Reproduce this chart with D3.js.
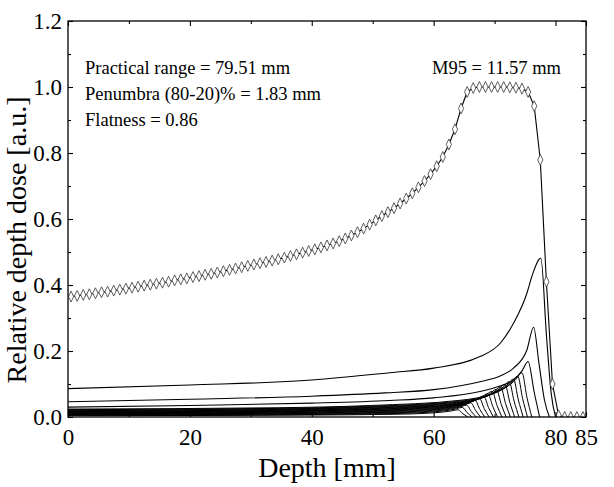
<!DOCTYPE html>
<html><head><meta charset="utf-8">
<script src="https://cdn.jsdelivr.net/npm/d3@7"></script>
<style>body{margin:0;background:#fff}svg{display:block}</style>
</head><body><svg id="chart" width="614" height="487"></svg>
<script>
// ---- data ----
const sobpDepth = [0.5,1.5,2.5,3.5,4.5,5.5,6.5,7.5,8.5,9.5,10.5,11.5,12.5,13.5,14.5,15.5,16.5,17.5,18.5,19.5,
  20.5,21.5,22.5,23.5,24.5,25.5,26.5,27.5,28.5,29.5,30.5,31.5,32.5,33.5,34.5,35.5,36.5,37.5,38.5,39.5,
  40.5,41.5,42.5,43.5,44.5,45.5,46.5,47.5,48.5,49.5,50.5,51.5,52.5,53.5,54.5,55.5,56.5,57.5,58.5,59.5,
  60.5,61.5,62.5,63.5,64.5,65.5,66.5,67.5,68.5,69.5,70.5,71.5,72.5,73.5,74.5,75.5,76.5,77.5,78.5,79.5,
  80.5,81.5,82.5,83.5,84.5];
const sobpDose = [0.365,0.367,0.370,0.372,0.375,0.378,0.380,0.383,0.386,0.389,0.392,0.395,0.398,0.401,0.404,0.407,0.410,0.414,0.417,0.420,
  0.424,0.427,0.431,0.434,0.438,0.442,0.446,0.450,0.454,0.458,0.462,0.466,0.470,0.474,0.478,0.483,0.488,0.493,0.498,0.503,
  0.508,0.514,0.520,0.526,0.533,0.541,0.550,0.560,0.571,0.583,0.596,0.609,0.621,0.633,0.647,0.662,0.678,0.696,0.715,0.736,
  0.760,0.788,0.826,0.872,0.935,0.985,0.997,1.000,1.000,1.000,1.000,1.000,0.999,0.998,0.995,0.985,0.942,0.779,0.410,0.100,
  0.005,0,0,0,0];

const peakA_depth = [0,20,40,52.8,60,67.6,71,73.1,75.3,76.1,77.6,78.5,79.3,80];
const peakA_dose  = [0.086,0.097,0.112,0.134,0.148,0.183,0.225,0.284,0.375,0.425,0.481,0.25,0.07,0];
const peakB_depth = [0,20,40,52,60,67.6,71,73.1,75.3,76.4,77.3,78.2,79];
const peakB_dose  = [0.046,0.054,0.063,0.073,0.083,0.107,0.125,0.148,0.203,0.272,0.16,0.05,0];
const peakC_depth = [0,20,40,52.8,60,67.6,71,73.1,74.5,75.5,76.5,77.4];
const peakC_dose  = [0.030,0.035,0.042,0.050,0.058,0.077,0.095,0.112,0.140,0.168,0.075,0];

const fanDepths = [
  [0,24,39,54,59,61.5,62.8,64,64.8,65.6],
  [0,24.7,39.7,54.7,59.7,62.2,63.5,64.7,65.5,66.3],
  [0,25.4,40.4,55.4,60.4,62.9,64.2,65.4,66.2,67.0],
  [0,26.1,41.1,56.1,61.1,63.6,64.9,66.1,66.9,67.7],
  [0,26.8,41.8,56.8,61.8,64.3,65.6,66.8,67.6,68.4],
  [0,27.5,42.5,57.5,62.5,65.0,66.3,67.5,68.3,69.1],
  [0,28.2,43.2,58.2,63.2,65.7,67.0,68.2,69.0,69.8],
  [0,28.9,43.9,58.9,63.9,66.4,67.7,68.9,69.7,70.5],
  [0,29.6,44.6,59.6,64.6,67.1,68.4,69.6,70.4,71.2],
  [0,30.3,45.3,60.3,65.3,67.8,69.1,70.3,71.1,71.9],
  [0,31.0,46.0,61.0,66.0,68.5,69.8,71.0,71.8,72.6],
  [0,31.7,46.7,61.7,66.7,69.2,70.5,71.7,72.5,73.3],
  [0,32.4,47.4,62.4,67.4,69.9,71.2,72.4,73.2,74.0],
  [0,33.1,48.1,63.1,68.1,70.6,71.9,73.1,73.9,74.7],
  [0,33.8,48.8,63.8,68.8,71.3,72.6,73.8,74.6,75.4],
  [0,34.5,49.5,64.5,69.5,72.0,73.3,74.5,75.3,76.1]
];
const fanDoses = [
  [0.0040,0.0046,0.0057,0.0084,0.0114,0.0150,0.0180,0.022,0.0099,0],
  [0.0052,0.0061,0.0075,0.0110,0.0151,0.0197,0.0238,0.029,0.0131,0],
  [0.0065,0.0076,0.0094,0.0137,0.0187,0.0245,0.0295,0.036,0.0162,0],
  [0.0077,0.0090,0.0112,0.0163,0.0224,0.0292,0.0353,0.043,0.0194,0],
  [0.0090,0.0105,0.0130,0.0190,0.0260,0.0340,0.0410,0.050,0.0225,0],
  [0.0103,0.0120,0.0148,0.0217,0.0296,0.0388,0.0467,0.057,0.0257,0],
  [0.0115,0.0134,0.0166,0.0243,0.0333,0.0435,0.0525,0.064,0.0288,0],
  [0.0128,0.0149,0.0185,0.0270,0.0369,0.0483,0.0582,0.071,0.0320,0],
  [0.0140,0.0164,0.0203,0.0296,0.0406,0.0530,0.0640,0.078,0.0351,0],
  [0.0151,0.0176,0.0218,0.0319,0.0437,0.0571,0.0689,0.084,0.0378,0],
  [0.0164,0.0191,0.0237,0.0346,0.0473,0.0619,0.0746,0.091,0.0410,0],
  [0.0178,0.0208,0.0257,0.0376,0.0515,0.0673,0.0812,0.099,0.0446,0],
  [0.0193,0.0225,0.0278,0.0407,0.0556,0.0728,0.0877,0.107,0.0482,0],
  [0.0207,0.0242,0.0299,0.0437,0.0598,0.0782,0.0943,0.115,0.0518,0],
  [0.0223,0.0260,0.0322,0.0471,0.0645,0.0843,0.1017,0.124,0.0558,0],
  [0.0241,0.0281,0.0348,0.0509,0.0697,0.0911,0.1099,0.134,0.0603,0]
];

const xMajorTicks = [0,20,40,60,80,85];
const xMinorTicks = [10,30,50,70];
const yMajorTicks = [0,0.2,0.4,0.6,0.8,1.0,1.2];
const yMinorTicks = [0.1,0.3,0.5,0.7,0.9,1.1];
const infoLines = ["Practical range = 79.51 mm","Penumbra (80-20)% = 1.83 mm","Flatness = 0.86"];
const m95Text = "M95 = 11.57 mm";
const xTitle = "Depth [mm]";
const yTitle = "Relative depth dose [a.u.]";

// ---- drawing ----
const L = 68, R = 586, T = 21, B = 417;
const FONT = "'Liberation Serif','Times New Roman',serif";
const svg = d3.select("#chart");
const x = d3.scaleLinear().domain([0,85]).range([L,R]);
const y = d3.scaleLinear().domain([0,1.2]).range([B,T]);

svg.append("defs").append("clipPath").attr("id","plotclip")
  .append("rect").attr("x",L).attr("y",T).attr("width",R-L).attr("height",B-T);

const plot = svg.append("g").attr("clip-path","url(#plotclip)");
const smooth = d3.line().x(d=>x(d[0])).y(d=>y(d[1])).curve(d3.curveMonotoneX);
const straight = d3.line().x(d=>x(d[0])).y(d=>y(d[1]));

function drawCurve(depths, doses, w, gen){
  plot.append("path").datum(depths.map((d,i)=>[d,doses[i]]))
    .attr("d",gen).attr("fill","none").attr("stroke","#000").attr("stroke-width",w);
}
fanDepths.forEach((dd,i)=>drawCurve(dd,fanDoses[i],1,smooth));
drawCurve(peakC_depth,peakC_dose,1.1,smooth);
drawCurve(peakB_depth,peakB_dose,1.1,smooth);
drawCurve(peakA_depth,peakA_dose,1.1,smooth);
drawCurve(sobpDepth,sobpDose,1.1,straight);

const diamond = d3.symbol().type(d3.symbolDiamond).size(26);
plot.selectAll("path.dm").data(sobpDepth.map((d,i)=>[d,sobpDose[i]])).join("path")
  .attr("class","dm")
  .attr("d",diamond)
  .attr("transform",d=>`translate(${x(d[0])},${y(d[1])}) scale(0.95,1.15)`)
  .attr("fill","#fff").attr("stroke","#333").attr("stroke-width",0.75);

// axes (inward ticks)
function styleAxis(g){ g.select(".domain").remove(); g.selectAll("line").attr("stroke","#000").attr("stroke-width",1.1); }
const fmtY = d3.format(".1f");
svg.append("g").attr("transform",`translate(0,${B})`)
  .call(d3.axisBottom(x).tickValues(xMajorTicks).tickSize(-5).tickPadding(12).tickFormat(d3.format("d")))
  .call(styleAxis)
  .call(g=>g.selectAll("text").attr("font-family",FONT).attr("font-size",23).attr("fill","#000"));
svg.append("g").attr("transform",`translate(0,${B})`)
  .call(d3.axisBottom(x).tickValues(xMinorTicks).tickSize(-3).tickFormat(""))
  .call(styleAxis);
svg.append("g").attr("transform",`translate(0,${T})`)
  .call(d3.axisTop(x).tickValues(xMajorTicks).tickSize(-5).tickFormat("")).call(styleAxis);
svg.append("g").attr("transform",`translate(0,${T})`)
  .call(d3.axisTop(x).tickValues(xMinorTicks).tickSize(-3).tickFormat("")).call(styleAxis);

svg.append("g").attr("transform",`translate(${L},0)`)
  .call(d3.axisLeft(y).tickValues(yMajorTicks).tickSize(-5).tickPadding(6).tickFormat(fmtY))
  .call(styleAxis)
  .call(g=>g.selectAll("text").attr("font-family",FONT).attr("font-size",23).attr("fill","#000"));
svg.append("g").attr("transform",`translate(${L},0)`)
  .call(d3.axisLeft(y).tickValues(yMinorTicks).tickSize(-3).tickFormat("")).call(styleAxis);
svg.append("g").attr("transform",`translate(${R},0)`)
  .call(d3.axisRight(y).tickValues(yMajorTicks).tickSize(-5).tickFormat("")).call(styleAxis);
svg.append("g").attr("transform",`translate(${R},0)`)
  .call(d3.axisRight(y).tickValues(yMinorTicks).tickSize(-3).tickFormat("")).call(styleAxis);

svg.append("rect").attr("x",L).attr("y",T).attr("width",R-L).attr("height",B-T)
  .attr("fill","none").attr("stroke","#000").attr("stroke-width",1.3);

// titles
svg.append("text").attr("x",(L+R)/2).attr("y",477).attr("text-anchor","middle")
  .attr("font-family",FONT).attr("font-size",28).text(xTitle);
svg.append("text").attr("transform","translate(26,240) rotate(-90)").attr("text-anchor","middle")
  .attr("font-family",FONT).attr("font-size",28).text(yTitle);

// annotations
infoLines.forEach((t,i)=>{
  svg.append("text").attr("x",85).attr("y",74+i*26)
    .attr("font-family",FONT).attr("font-size",18.5).text(t);
});
svg.append("text").attr("x",561).attr("y",74).attr("text-anchor","end")
  .attr("font-family",FONT).attr("font-size",18.5).text(m95Text);
</script></body></html>
